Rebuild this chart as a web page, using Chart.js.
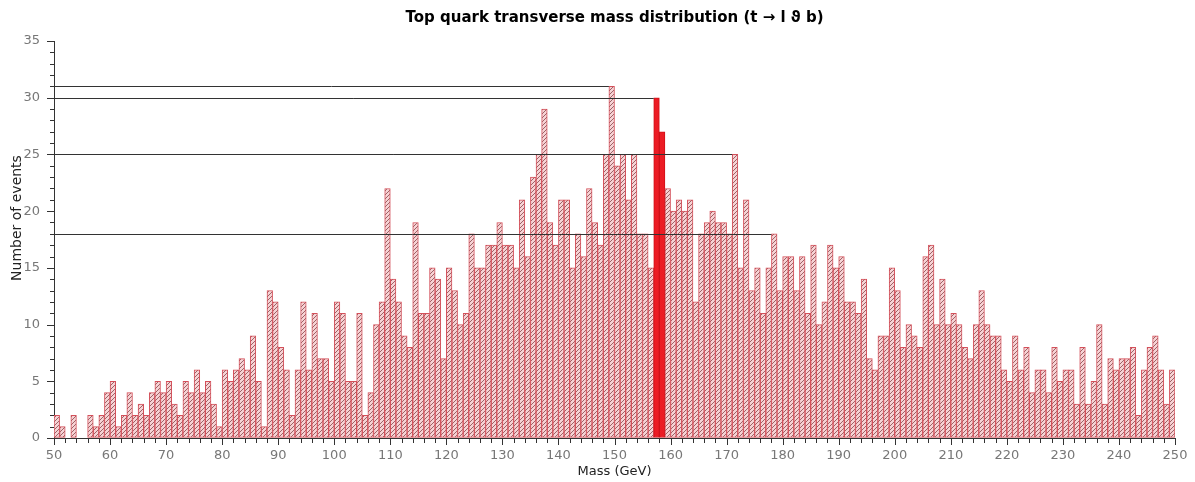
<!DOCTYPE html>
<html>
<head>
<meta charset="utf-8">
<script src="https://cdn.jsdelivr.net/npm/chart.js@4.4.1/dist/chart.umd.min.js"></script>
<style>
  body { margin: 0; background: #fff; }
  #wrap { width: 1195px; height: 482px; }
</style>
</head>
<body>
<div id="wrap"><canvas id="massChart" width="1195" height="482"></canvas></div>
<script>
// left edge of each 1 GeV bin
const massBins = [
  50, 51, 52, 53, 54, 55, 56, 57, 58, 59, 60, 61, 62, 63, 64, 65, 66, 67, 68, 69,
  70, 71, 72, 73, 74, 75, 76, 77, 78, 79, 80, 81, 82, 83, 84, 85, 86, 87, 88, 89,
  90, 91, 92, 93, 94, 95, 96, 97, 98, 99, 100, 101, 102, 103, 104, 105, 106, 107, 108, 109,
  110, 111, 112, 113, 114, 115, 116, 117, 118, 119, 120, 121, 122, 123, 124, 125, 126, 127, 128, 129,
  130, 131, 132, 133, 134, 135, 136, 137, 138, 139, 140, 141, 142, 143, 144, 145, 146, 147, 148, 149,
  150, 151, 152, 153, 154, 155, 156, 157, 158, 159, 160, 161, 162, 163, 164, 165, 166, 167, 168, 169,
  170, 171, 172, 173, 174, 175, 176, 177, 178, 179, 180, 181, 182, 183, 184, 185, 186, 187, 188, 189,
  190, 191, 192, 193, 194, 195, 196, 197, 198, 199, 200, 201, 202, 203, 204, 205, 206, 207, 208, 209,
  210, 211, 212, 213, 214, 215, 216, 217, 218, 219, 220, 221, 222, 223, 224, 225, 226, 227, 228, 229,
  230, 231, 232, 233, 234, 235, 236, 237, 238, 239, 240, 241, 242, 243, 244, 245, 246, 247, 248, 249
];

// number of events per bin
const eventCounts = [
  2, 1, 0, 2, 0, 0, 2, 1, 2, 4, 5, 1, 2, 4, 2, 3, 2, 4, 5, 4,
  5, 3, 2, 5, 4, 6, 4, 5, 3, 1, 6, 5, 6, 7, 6, 9, 5, 1, 13, 12,
  8, 6, 2, 6, 12, 6, 11, 7, 7, 5, 12, 11, 5, 5, 11, 2, 4, 10, 12, 22,
  14, 12, 9, 8, 19, 11, 11, 15, 14, 7, 15, 13, 10, 11, 18, 15, 15, 17, 17, 19,
  17, 17, 15, 21, 16, 23, 25, 29, 19, 17, 21, 21, 15, 18, 16, 22, 19, 17, 25, 31,
  24, 25, 21, 25, 18, 18, 15, 30, 27, 22, 20, 21, 20, 21, 12, 18, 19, 20, 19, 19,
  18, 25, 15, 21, 13, 15, 11, 15, 18, 13, 16, 16, 13, 16, 11, 17, 10, 12, 17, 15,
  16, 12, 12, 11, 14, 7, 6, 9, 9, 15, 13, 8, 10, 9, 8, 16, 17, 10, 14, 10,
  11, 10, 8, 7, 10, 13, 10, 9, 9, 6, 5, 9, 6, 8, 4, 6, 6, 4, 8, 5,
  6, 6, 3, 8, 3, 5, 10, 3, 7, 6, 7, 7, 8, 2, 6, 8, 9, 6, 3, 6
];

// highlighted (solid) bins
const solidBins = [157, 158];

// reference lines: level and the bin where each line stops
const refLevels = [31, 30, 25, 18];
const refBins = [149, 157, 171, 178];

const xTickStep = 2;
const yTickStep = 1;

function makeHatch(bg, line) {
  const c = document.createElement('canvas');
  c.width = 4; c.height = 4;
  const g = c.getContext('2d');
  g.fillStyle = bg;
  g.fillRect(0, 0, 4, 4);
  g.strokeStyle = line;
  g.lineWidth = 1;
  g.beginPath();
  g.moveTo(-1, 5); g.lineTo(5, -1);
  g.stroke();
  return g.createPattern(c, 'repeat');
}
const hatchFill = makeHatch('#f6d3d5', '#9e6266');

const isSolid = (i) => solidBins.includes(massBins[i]);

// minor / major tick marks drawn by hand
const tickMarks = {
  id: 'tickMarks',
  afterDraw(chart) {
    const { ctx, chartArea, scales } = chart;
    ctx.save();
    ctx.strokeStyle = '#333';
    ctx.lineWidth = 1;
    ctx.beginPath();
    scales.x.ticks.forEach(t => {
      const px = Math.round(scales.x.getPixelForValue(t.value)) + 0.5;
      const len = t.value % 10 === 0 ? 7 : 5;
      ctx.moveTo(px, chartArea.bottom);
      ctx.lineTo(px, chartArea.bottom + len);
    });
    scales.y.ticks.forEach(t => {
      const py = Math.round(scales.y.getPixelForValue(t.value)) + 0.5;
      const len = t.value % 5 === 0 ? 7 : 4;
      ctx.moveTo(chartArea.left, py);
      ctx.lineTo(chartArea.left - len, py);
    });
    ctx.stroke();

    // y axis title
    ctx.translate(17, 218);
    ctx.rotate(-Math.PI / 2);
    ctx.fillStyle = '#222';
    ctx.font = '14px "DejaVu Sans"';
    ctx.textAlign = 'center';
    ctx.textBaseline = 'middle';
    ctx.fillText('Number of events', 0, 0);
    ctx.restore();
  }
};

// horizontal guide lines from the y axis to the marked bins
const refLinesPlugin = {
  id: 'refLines',
  afterDatasetsDraw(chart) {
    const { ctx, chartArea, scales } = chart;
    ctx.save();
    ctx.strokeStyle = '#333';
    ctx.lineWidth = 1;
    ctx.beginPath();
    refLevels.forEach((lvl, i) => {
      const py = Math.round(scales.y.getPixelForValue(lvl)) + 0.5;
      ctx.moveTo(chartArea.left, py);
      ctx.lineTo(scales.x.getPixelForValue(refBins[i]), py);
    });
    ctx.stroke();
    ctx.restore();
  }
};

const ctx = document.getElementById('massChart').getContext('2d');
new Chart(ctx, {
  type: 'bar',
  data: {
    datasets: [{
      label: 'Events',
      data: massBins.map((b, i) => ({ x: b + 0.5, y: eventCounts[i] })),
      backgroundColor: (c) => isSolid(c.dataIndex) ? '#ec1c24' : hatchFill,
      borderColor: (c) => isSolid(c.dataIndex) ? '#d01018' : '#d4505a',
      borderWidth: 1,
      borderSkipped: false,
      barPercentage: 1,
      categoryPercentage: 1
    }]
  },
  options: {
    responsive: false,
    animation: false,
    events: [],
    layout: { padding: { left: 0, right: 20, top: 0, bottom: 0 } },
    plugins: {
      legend: { display: false },
      tooltip: { enabled: false },
      title: {
        display: true,
        fullSize: false,
        text: 'Top quark transverse mass distribution (t \u2192 l \u03d1 b)',
        color: '#000',
        font: { family: 'DejaVu Sans', size: 15, weight: 'bold', lineHeight: 1.2 },
        padding: { top: 9, bottom: 14 }
      }
    },
    scales: {
      x: {
        type: 'linear',
        min: 50,
        max: 250,
        offset: false,
        afterFit: (s) => { s.height = 44; },
        grid: { display: true, drawOnChartArea: false, color: 'rgba(0,0,0,0)', tickLength: 7 },
        border: { display: true, color: '#333', width: 1 },
        ticks: {
          stepSize: xTickStep,
          autoSkip: false,
          maxRotation: 0,
          padding: 3,
          color: '#777',
          font: { family: 'DejaVu Sans', size: 13 },
          callback: (v) => v % 10 === 0 ? v : ''
        },
        title: {
          display: true,
          text: 'Mass (GeV)',
          color: '#222',
          font: { family: 'DejaVu Sans', size: 13 },
          padding: { top: 0, bottom: 3 }
        }
      },
      y: {
        min: 0,
        max: 35,
        afterFit: (s) => { s.width = 54; },
        grid: { display: true, drawOnChartArea: false, color: 'rgba(0,0,0,0)', tickLength: 7 },
        border: { display: true, color: '#333', width: 1 },
        ticks: {
          stepSize: yTickStep,
          autoSkip: false,
          padding: 7,
          color: '#777',
          font: { family: 'DejaVu Sans', size: 13 },
          callback: (v) => v % 5 === 0 ? v : ''
        }
      }
    }
  },
  plugins: [tickMarks, refLinesPlugin]
});
</script>
</body>
</html>
